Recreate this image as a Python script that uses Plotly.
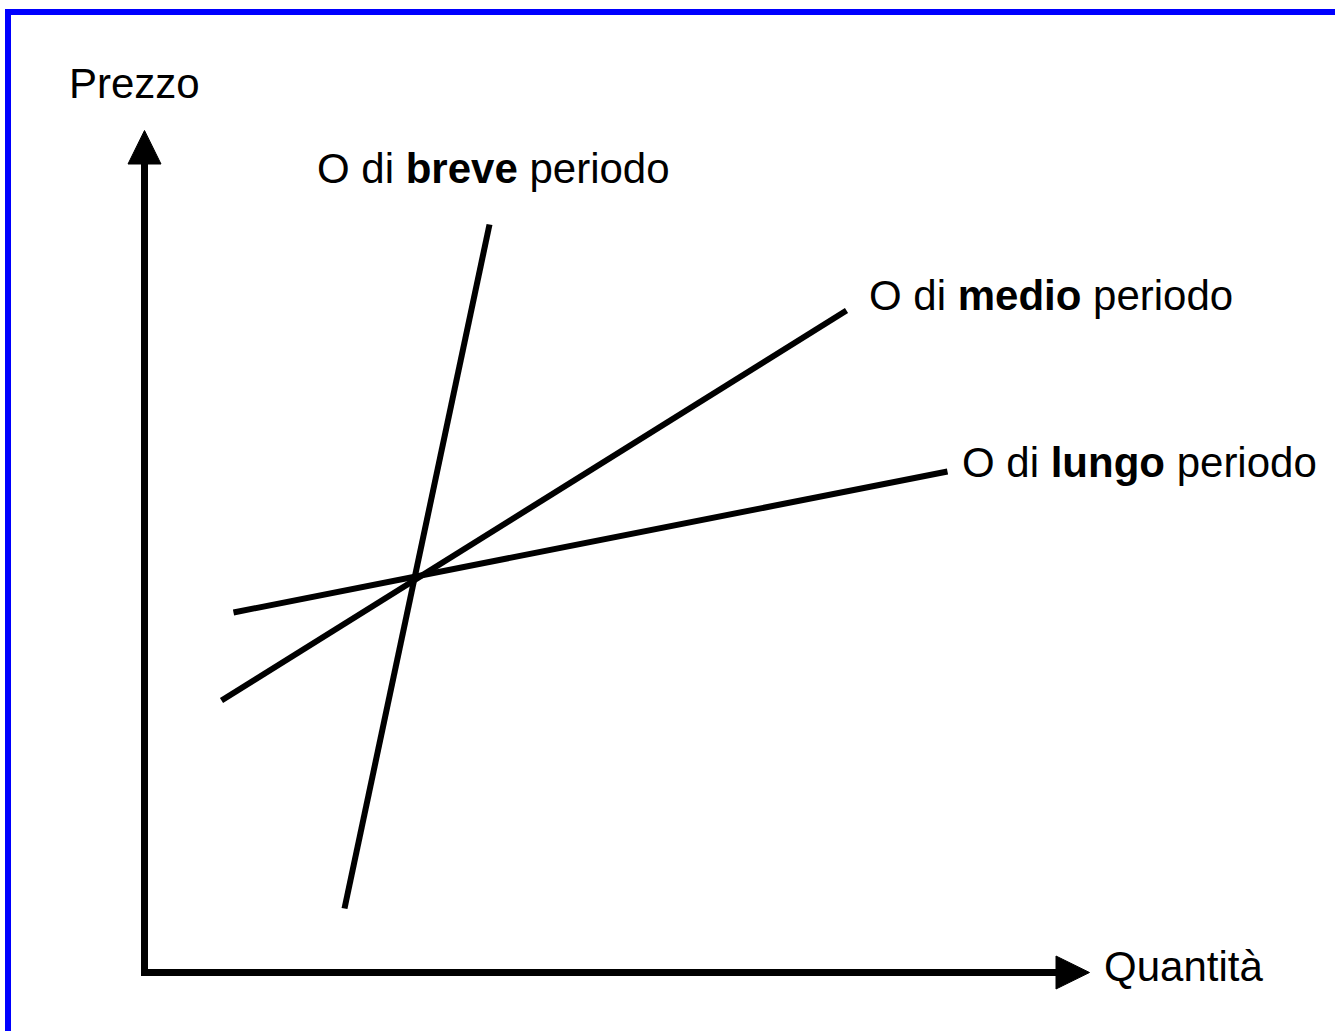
import plotly.graph_objects as go

# supply curves: short, medium and long period (quantity, price)
breve_q = [2.0, 3.45]
breve_p = [0.64, 7.48]
medio_q = [0.77, 7.02]
medio_p = [2.72, 6.62]
lungo_q = [0.89, 8.03]
lungo_p = [3.6, 5.01]

# axes ends (where the arrowheads start) and arrowhead size
q_end = 9.115
p_end = 8.085
head_len = 0.335
head_half = 0.165

labels = ['O di <b>breve</b> periodo', 'O di <b>medio</b> periodo', 'O di <b>lungo</b> periodo']
label_q = [1.70, 7.22, 8.15]
label_p = [8.04, 6.77, 5.10]

font = 'Arial, Liberation Sans, sans-serif'

fig = go.Figure()

# axes
fig.add_trace(go.Scatter(x=[0, 0, q_end], y=[p_end, 0, 0], mode='lines',
                         line=dict(color='black', width=7)))
# arrowheads
fig.add_trace(go.Scatter(x=[-head_half, head_half, 0, -head_half],
                         y=[p_end, p_end, p_end + head_len, p_end],
                         mode='lines', fill='toself', fillcolor='black',
                         line=dict(color='black', width=1)))
fig.add_trace(go.Scatter(x=[q_end, q_end, q_end + head_len, q_end],
                         y=[-head_half, head_half, 0, -head_half],
                         mode='lines', fill='toself', fillcolor='black',
                         line=dict(color='black', width=1)))

for q, p in [(breve_q, breve_p), (medio_q, medio_p), (lungo_q, lungo_p)]:
    fig.add_trace(go.Scatter(x=q, y=p, mode='lines', line=dict(color='black', width=6)))

for txt, q, p in zip(labels, label_q, label_p):
    fig.add_annotation(x=q, y=p, text=txt, showarrow=False, xanchor='left', yanchor='middle',
                       font=dict(family=font, size=42, color='black'))

fig.add_annotation(x=-0.78, y=8.89, text='Prezzo', showarrow=False, xanchor='left', yanchor='middle',
                   font=dict(family=font, size=42, color='black'))
fig.add_annotation(x=9.57, y=0.06, text='Quantità', showarrow=False, xanchor='left', yanchor='middle',
                   font=dict(family=font, size=42, color='black'))

# blue frame (only top and left edges are inside the picture)
fig.add_shape(type='rect', xref='paper', yref='paper',
              x0=8 / 1335, x1=1.2, y0=-0.2, y1=1 - 12 / 1031,
              line=dict(color='#0000ff', width=6))

fig.update_xaxes(range=[-1.445, 11.905], visible=False)
fig.update_yaxes(range=[-0.585, 9.725], visible=False)
fig.update_layout(width=1335, height=1031, margin=dict(l=0, r=0, t=0, b=0),
                  showlegend=False, plot_bgcolor='white', paper_bgcolor='white')

# drop the default page margin so the chart sits at the window corner
fig.write_html('out.html', config={'displayModeBar': False},
               post_script="document.body.style.margin='0';")
